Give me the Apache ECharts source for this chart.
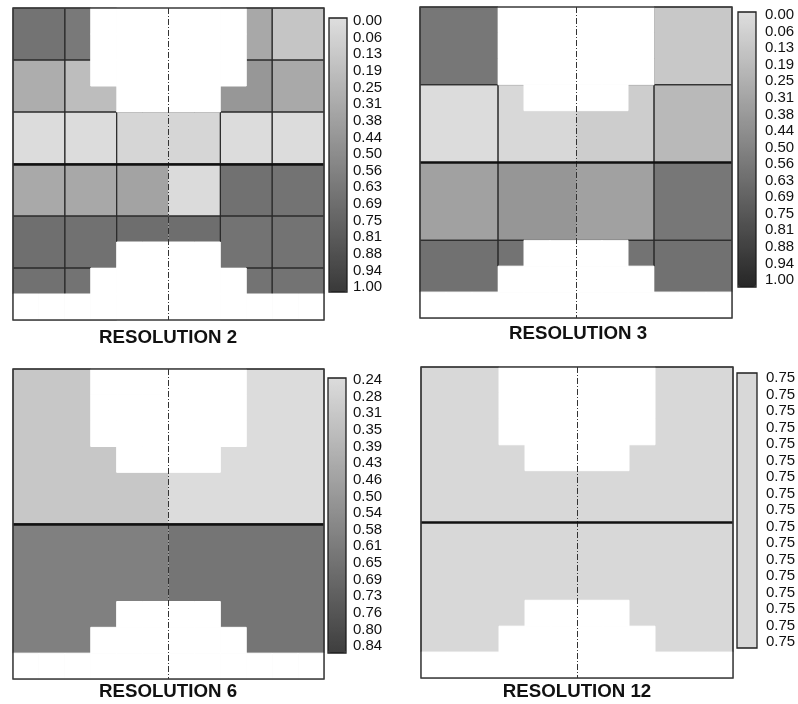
<!DOCTYPE html>
<html>
<head>
<meta charset="utf-8">
<script src="https://cdn.jsdelivr.net/npm/echarts@6/dist/echarts.min.js"></script>
<style>
html, body { margin: 0; padding: 0; background: #fff; }
#main { width: 798px; height: 704px; }
</style>
</head>
<body>
<div id="main"></div>
<script>
var chart = echarts.init(document.getElementById('main'));

// 12 x 12 fine cells, '#' = inside the domain, '.' = outside (left white)
var maskRows = [
    '###......###',
    '###......###',
    '###......###',
    '####....####',
    '############',
    '############',
    '############',
    '############',
    '############',
    '####....####',
    '###......###',
    '............'
];

// block values, one row per block row (null = block fully outside)
var res2Values = [
    [0.65, 0.61, null, null, 0.33, 0.15],
    [0.30, 0.20, null, null, 0.43, 0.32],
    [0.01, 0.01, 0.05, 0.05, 0.01, 0.01],
    [0.32, 0.33, 0.36, 0.02, 0.66, 0.65],
    [0.67, 0.66, 0.68, 0.68, 0.65, 0.65],
    [0.66, 0.65, null, null, 0.65, 0.65]
];
var res3Values = [
    [0.56, null, null, 0.12],
    [0.01, 0.03, 0.09, 0.20],
    [0.33, 0.39, 0.33, 0.56],
    [0.59, 0.58, 0.58, 0.59]
];
var res6Values = [
    [0.32, 0.24],
    [0.59, 0.63]
];
var res12Values = [
    [0.75]
];

var blockSizes = [2, 3, 6, 12];
var panelTitles = ['RESOLUTION 2', 'RESOLUTION 3', 'RESOLUTION 6', 'RESOLUTION 12'];

var barLabels2 = ['0.00','0.06','0.13','0.19','0.25','0.31','0.38','0.44','0.50','0.56','0.63','0.69','0.75','0.81','0.88','0.94','1.00'];
var barLabels3 = ['0.00','0.06','0.13','0.19','0.25','0.31','0.38','0.44','0.50','0.56','0.63','0.69','0.75','0.81','0.88','0.94','1.00'];
var barLabels6 = ['0.24','0.28','0.31','0.35','0.39','0.43','0.46','0.50','0.54','0.58','0.61','0.65','0.69','0.73','0.76','0.80','0.84'];
var barLabels12 = ['0.75','0.75','0.75','0.75','0.75','0.75','0.75','0.75','0.75','0.75','0.75','0.75','0.75','0.75','0.75','0.75','0.75'];
var barRanges = [[0, 1], [0, 1], [0.24, 0.84], [0.75, 0.75]];

var centerCol = 6;
var midRow = 6;

var allValues = [res2Values, res3Values, res6Values, res12Values];
var allLabels = [barLabels2, barLabels3, barLabels6, barLabels12];

// layout of the four panels
var panels = [
    {grid: {left: 13, top: 8, width: 311, height: 312}, bar: {left: 329, top: 18, w: 18, h: 274},
     lab: {left: 347, top: 21, height: 266, margin: 5}, title: {x: 168, y: 338},
     colors: ['#dedede', '#393939']},
    {grid: {left: 420, top: 7, width: 312, height: 311}, bar: {left: 738, top: 12, w: 18, h: 275},
     lab: {left: 756, top: 15, height: 265, margin: 8}, title: {x: 578, y: 334},
     colors: ['#dedede', '#262626']},
    {grid: {left: 13, top: 369, width: 311, height: 310}, bar: {left: 328, top: 378, w: 18, h: 275},
     lab: {left: 346, top: 380, height: 266, margin: 6}, title: {x: 168, y: 692},
     colors: ['#dcdcdc', '#3e3e3e']},
    {grid: {left: 421, top: 367, width: 312, height: 311}, bar: {left: 737, top: 373, w: 20, h: 275},
     lab: {left: 757, top: 378, height: 264, margin: 8}, title: {x: 577, y: 692},
     colors: ['#d8d8d8', '#d8d8d8']}
];

var fontFamily = '"Liberation Sans", Arial, Helvetica, sans-serif';

function blockItems(values, size) {
    var items = [];
    for (var r = 0; r < values.length; r++) {
        for (var c = 0; c < values[r].length; c++) {
            if (values[r][c] == null) continue;
            items.push([c * size, r * size, (c + 1) * size, (r + 1) * size, values[r][c]]);
        }
    }
    return items;
}

function maskItems() {
    var items = [];
    for (var r = 0; r < maskRows.length; r++) {
        for (var c = 0; c < maskRows[r].length; c++) {
            if (maskRows[r][c] === '.') items.push([c, r, c + 1, r + 1]);
        }
    }
    return items;
}

function renderBlock(params, api) {
    var x0 = api.value(0), y0 = api.value(1), x1 = api.value(2), y1 = api.value(3);
    var p0 = api.coord([x0, y0]);
    var p1 = api.coord([x1, y1]);
    var children = [{
        type: 'rect',
        shape: {x: p0[0], y: p0[1], width: p1[0] - p0[0], height: p1[1] - p0[1]},
        style: {fill: api.visual('color')}
    }];
    var edges = [[x0, y0, x1, y0], [x0, y1, x1, y1], [x0, y0, x0, y1], [x1, y0, x1, y1]];
    edges.forEach(function (e) {
        if (e[0] === e[2] && e[0] === centerCol) return;
        var a = api.coord([e[0], e[1]]);
        var b = api.coord([e[2], e[3]]);
        children.push({
            type: 'line', z2: 1,
            shape: {x1: a[0], y1: a[1], x2: b[0], y2: b[1]},
            style: {stroke: '#2a2a2a', lineWidth: 1}
        });
    });
    return {type: 'group', children: children};
}

function renderMask(params, api) {
    var p0 = api.coord([api.value(0), api.value(1)]);
    var p1 = api.coord([api.value(2), api.value(3)]);
    return {
        type: 'rect',
        shape: {x: p0[0], y: p0[1], width: p1[0] - p0[0], height: p1[1] - p0[1]},
        style: {fill: '#ffffff', stroke: '#ffffff', lineWidth: 1}
    };
}

var grids = [], xAxes = [], yAxes = [], series = [], visualMaps = [], titles = [];

panels.forEach(function (p, i) {
    grids.push({
        left: p.grid.left, top: p.grid.top, width: p.grid.width, height: p.grid.height,
        show: true, borderColor: '#3a3a3a', borderWidth: 1.5, backgroundColor: 'transparent',
        z: 10, outerBoundsMode: 'none'
    });
    xAxes.push({gridIndex: i, type: 'value', min: 0, max: 12, show: false});
    yAxes.push({gridIndex: i, type: 'value', min: 0, max: 12, inverse: true, show: false});

    series.push({
        type: 'custom', name: panelTitles[i], xAxisIndex: i, yAxisIndex: i, z: 2, silent: true,
        encode: {x: [0, 2], y: [1, 3]},
        data: blockItems(allValues[i], blockSizes[i]),
        renderItem: renderBlock
    });
    series.push({
        type: 'custom', xAxisIndex: i, yAxisIndex: i, z: 3, silent: true,
        encode: {x: [0, 2], y: [1, 3]},
        data: maskItems(),
        renderItem: renderMask
    });
    series.push({
        type: 'line', xAxisIndex: i, yAxisIndex: i, data: [], silent: true,
        markLine: {
            silent: true, symbol: ['none', 'none'], label: {show: false}, z: 6,
            data: [
                {xAxis: centerCol, lineStyle: {color: '#333', width: 1, type: [6, 2, 1, 2]}},
                {yAxis: midRow, lineStyle: {color: '#111', width: 2.5, type: 'solid'}}
            ]
        }
    });

    var lo = barRanges[i][0], hi = barRanges[i][1];
    if (lo === hi) { lo -= 0.01; hi += 0.01; }
    visualMaps.push({
        type: 'continuous', seriesIndex: i * 3, dimension: 4,
        min: lo, max: hi, inverse: true, calculable: false, hoverLink: false,
        left: p.bar.left, top: p.bar.top, itemWidth: p.bar.w, itemHeight: p.bar.h,
        padding: 0,
        inRange: {color: p.colors}
    });

    titles.push({
        text: panelTitles[i], left: p.title.x, top: p.title.y, padding: 0,
        textAlign: 'center', textVerticalAlign: 'middle',
        textStyle: {fontFamily: fontFamily, fontSize: 18.7, fontWeight: 'bold', color: '#111'}
    });
});

// colour bar tick labels
panels.forEach(function (p, i) {
    var gi = 4 + i;
    var labels = allLabels[i];
    grids.push({left: p.lab.left, top: p.lab.top, width: 1, height: p.lab.height, show: false, outerBoundsMode: 'none'});
    xAxes.push({gridIndex: gi, type: 'value', show: false});
    yAxes.push({
        gridIndex: gi, type: 'value', min: 0, max: labels.length - 1, interval: 1, inverse: true,
        position: 'right',
        axisLine: {show: false}, axisTick: {show: false}, splitLine: {show: false},
        axisLabel: {
            margin: p.lab.margin, fontSize: 15, color: '#111', fontFamily: fontFamily,
            formatter: function (v) { return labels[v]; }
        }
    });
});

// frames round the colour bars
panels.forEach(function (p, i) {
    var gi = 8 + i;
    grids.push({
        left: p.bar.left, top: p.bar.top, width: p.bar.w, height: p.bar.h,
        show: true, borderColor: '#1e1e1e', borderWidth: 1.3, backgroundColor: 'transparent',
        z: 10, outerBoundsMode: 'none'
    });
    xAxes.push({gridIndex: gi, type: 'value', min: 0, max: 1, show: false});
    yAxes.push({gridIndex: gi, type: 'value', min: 0, max: 1, show: false});
});

chart.setOption({
    animation: false,
    backgroundColor: '#ffffff',
    title: titles,
    grid: grids,
    xAxis: xAxes,
    yAxis: yAxes,
    visualMap: visualMaps,
    series: series
});
</script>
</body>
</html>
